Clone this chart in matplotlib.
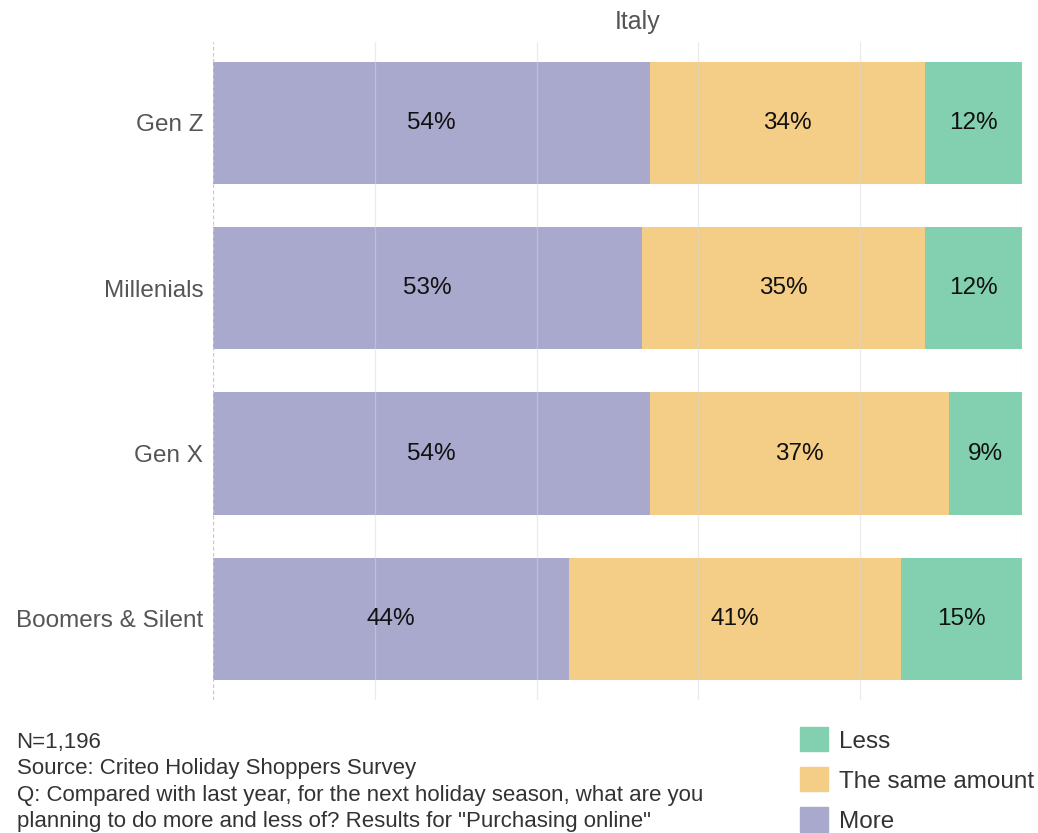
import numpy as np
import matplotlib.pyplot as plt
from matplotlib.patches import Patch

plt.rcParams['font.family'] = ['Liberation Sans', 'DejaVu Sans']

# survey shares per generation, in percent
generations = ['Gen Z', 'Millenials', 'Gen X', 'Boomers & Silent']
more = [54, 53, 54, 44]
same = [34, 35, 37, 41]
less = [12, 12, 9, 15]

series_names = ['More', 'The same amount', 'Less']
colors = ['#a9a8cd', '#f4cd86', '#83d0b1']

fig = plt.figure(figsize=(10.38, 8.33), dpi=100)
ax = fig.add_axes([0.2052, 0.1597, 0.7794, 0.7899])

y = np.arange(len(generations))
left = np.zeros(len(generations))
for vals, name, col in zip([more, same, less], series_names, colors):
    vals = np.array(vals, dtype=float)
    ax.barh(y, vals, left=left, height=0.74, color=col, label=name, zorder=1)
    for yi, l, v in zip(y, left, vals):
        ax.text(l + v / 2, yi, f'{v:.0f}%', ha='center', va='center',
                fontsize=17.5, color='#111111', zorder=3)
    left += vals

ax.set_xlim(0, 100)
ax.set_ylim(3.49, -0.49)
ax.set_xticks([0, 20, 40, 60, 80, 100])
ax.set_xticklabels([])
ax.tick_params(axis='x', length=0)
ax.tick_params(axis='y', length=0, pad=7)
ax.set_yticks(y)
ax.set_yticklabels(generations, fontsize=17.5, color='#555555')

# faint gridlines sit over the bars; the zero line is dashed
for gx in [20, 40, 60, 80, 100]:
    ax.axvline(gx, color='#d8d8d8', lw=0.9, alpha=0.5, zorder=2)
ax.axvline(0, color='#c8c8c8', lw=0.9, ls=(0, (3, 2)), zorder=2)
for s in ax.spines.values():
    s.set_visible(False)

ax.text(0.525, 1.0 + 20 / 656, 'Italy', transform=ax.transAxes,
        ha='center', va='center', fontsize=18, color='#555555')

fig.text(0.016, 0.121,
         'N=1,196\nSource: Criteo Holiday Shoppers Survey\n'
         'Q: Compared with last year, for the next holiday season, what are you\n'
         'planning to do more and less of? Results for "Purchasing online"',
         fontsize=16, color='#333333', va='top', ha='left', linespacing=1.33)

handles = [Patch(color=c) for c in colors[::-1]]
fig.legend(handles, series_names[::-1], loc='upper left',
           bbox_to_anchor=(0.7707, 0.127), frameon=False, fontsize=17.5,
           handlelength=1.15, handleheight=1.15, labelspacing=0.61,
           handletextpad=0.45, borderpad=0, borderaxespad=0,
           labelcolor='#333333')

fig.savefig('out.png', dpi=100)
